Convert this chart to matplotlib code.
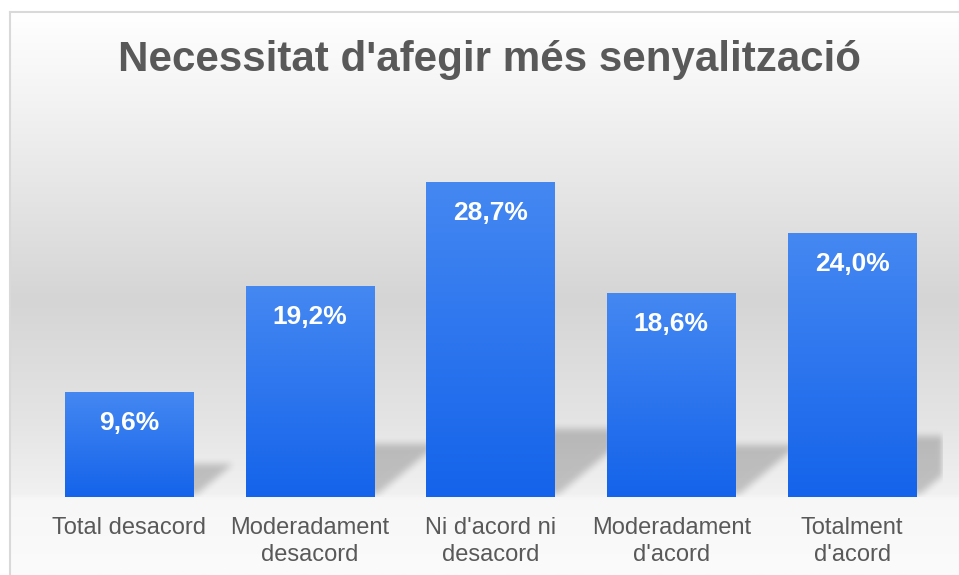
import numpy as np
import matplotlib
matplotlib.use("Agg")
import matplotlib.pyplot as plt
from matplotlib.colors import LinearSegmentedColormap

# Dades
title = "Necessitat d'afegir més senyalització"
categories = ["Total desacord", "Moderadament\ndesacord", "Ni d'acord ni\ndesacord",
              "Moderadament\nd'acord", "Totalment\nd'acord"]
values = [9.6, 19.2, 28.7, 18.6, 24.0]
value_labels = ["9,6%", "19,2%", "28,7%", "18,6%", "24,0%"]

plt.rcParams['font.family'] = ['Liberation Sans', 'DejaVu Sans']

W, H = 959, 575
fig = plt.figure(figsize=(W / 100, H / 100), dpi=100)

# fons amb degradat i marc
bg = fig.add_axes([0, 0, 1, 1])
bg.set_xlim(0, W)
bg.set_ylim(H, 0)
bg.axis('off')
stops = [(12, '#ffffff'), (100, '#f3f3f3'), (300, '#d5d5d5'), (420, '#e4e4e4'),
         (496, '#f1f1f1'), (500, '#f7f7f7'), (575, '#fbfbfb')]
bg_cmap = LinearSegmentedColormap.from_list(
    'bg', [((p - 12) / (575 - 12), c) for p, c in stops])
bg.imshow(np.linspace(0, 1, 400)[:, None], extent=[10, W, H, 12], cmap=bg_cmap,
          aspect='auto', interpolation='bilinear')
bg.plot([10, 10], [H, 12], color='#d9d9d9', lw=1.5)
bg.plot([10, W], [12, 12], color='#d9d9d9', lw=1.5)

# eixos del gràfic
ax_l, ax_r, ax_t, ax_b = 38.5, 942.5, 130, 497
px_per_unit = 10.98
ytop = (ax_b - ax_t) / px_per_unit
ax = fig.add_axes([ax_l / W, (H - ax_b) / H, (ax_r - ax_l) / W, (ax_b - ax_t) / H])
ax.patch.set_visible(False)
for s in ax.spines.values():
    s.set_visible(False)

x = np.arange(len(values))
bar_w = 0.708
bars = ax.bar(x, values, width=bar_w, color='none', zorder=3)

# ombres en perspectiva
aw, ah = int(ax_r - ax_l), int(ax_b - ax_t)
xpx = np.arange(aw)[None, :]
ypx = np.arange(ah)[:, None]  # des de baix
mask = np.zeros((ah, aw))
unit_x = aw / 5.0
for b in bars:
    x0 = (b.get_x() + 0.5) * unit_x
    x1 = x0 + bar_w * unit_x
    hp = b.get_height() * px_per_unit
    sh = 148 * hp / (hp + 380)
    inside = (ypx >= 3) & (ypx <= sh) & (xpx >= x0 + 1.2 * ypx) & (xpx <= x1 + 1.2 * ypx)
    mask = np.maximum(mask, inside.astype(float))


def box_blur(a, r):
    k = np.ones(2 * r + 1) / (2 * r + 1)
    a = np.apply_along_axis(lambda m: np.convolve(m, k, mode='same'), 0, a)
    a = np.apply_along_axis(lambda m: np.convolve(m, k, mode='same'), 1, a)
    return a


mask = box_blur(box_blur(mask, 4), 3)
shadow = np.zeros((ah, aw, 4))
shadow[..., 3] = 0.2 * mask
ax.imshow(shadow, extent=[-0.5, 4.5, 0, ytop], origin='lower', aspect='auto',
          interpolation='bilinear', zorder=1)

# barres amb degradat
bar_cmap = LinearSegmentedColormap.from_list('bar', ['#1463ea', '#4588f2'])
grad = np.linspace(0, 1, 256)[:, None]
for b in bars:
    im = ax.imshow(grad, extent=[b.get_x(), b.get_x() + b.get_width(), 0, b.get_height()],
                   origin='lower', cmap=bar_cmap, aspect='auto', zorder=2)
    im.set_clip_path(b)

for xi, v, lbl in zip(x, values, value_labels):
    ax.annotate(lbl, (xi, v), xytext=(0, -38 * 0.72), textcoords='offset points',
                ha='center', va='baseline', color='white', fontsize=19,
                fontweight='bold', zorder=4)

ax.set_xlim(-0.5, 4.5)
ax.set_ylim(0, ytop)
ax.set_yticks([])
ax.set_xticks(x, categories)
ax.tick_params(axis='x', length=0, pad=14.2, labelsize=17, labelcolor='#595959')
for t in ax.get_xticklabels():
    t.set_linespacing(1.32)

fig.text(489.5 / W, 1 - 71 / H, title, ha='center', va='baseline', fontsize=30.3,
         fontweight='bold', color='#595959')

fig.savefig('out.png', dpi=100)
